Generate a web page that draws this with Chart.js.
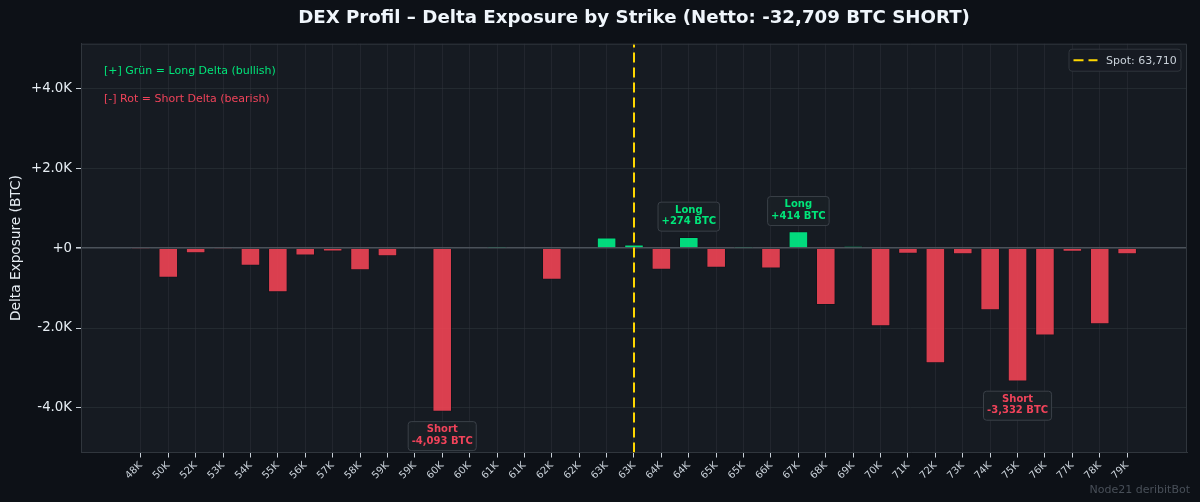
<!DOCTYPE html>
<html>
<head>
<meta charset="utf-8">
<title>DEX Profil – Delta Exposure by Strike</title>
<script src="https://cdn.jsdelivr.net/npm/chart.js@4.4.1/dist/chart.umd.min.js"></script>
<style>
  html, body { margin: 0; padding: 0; background: #0d1117; }
  #wrap { width: 1200px; height: 502px; position: relative; }
</style>
</head>
<body>
<div id="wrap"><canvas id="dex"></canvas></div>
<script>
// strike labels as printed under the axis (half strikes round down to K)
const strikeLabels = [
  '48K', '50K', '52K', '53K', '54K', '55K', '56K', '57K', '58K', '59K',
  '59K', '60K', '60K', '61K', '61K', '62K', '62K', '63K', '63K', '64K',
  '64K', '65K', '65K', '66K', '67K', '68K', '69K', '70K', '71K', '72K',
  '73K', '74K', '75K', '76K', '77K', '78K', '79K'
];

// delta exposure per strike in BTC
const deltaBtc = [
  -10, -737, -124, -10, -438, -1102, -182, -82, -547, -199,
  0, -4093, 0, 8, 0, -786, 0, 262, 85, -537,
  274, -488, 8, -505, 414, -1418, 45, -1950, -134, -2878,
  -150, -1552, -3332, -2182, -84, -1900, -150
];

const yTickValues = [-4000, -2000, 0, 2000, 4000];

const spotPrice = 63710;
const spotIndex = 18;     // strike slot the spot line sits on
const netDelta = -32709;

const GREEN = '#00e67a';
const RED = '#f0435a';
const BAR_GREEN = 'rgba(0, 240, 135, 0.9)';
const BAR_RED = 'rgba(240, 68, 84, 0.9)';
const FONT = "'DejaVu Sans', 'Liberation Sans', sans-serif";

Chart.defaults.font.family = FONT;

// axis limits the way matplotlib would pick them for 0.7 wide bars
const barWidth = 0.7;
const span = (deltaBtc.length - 1) + barWidth;
const xMin = -barWidth / 2 - span * 0.05;
const xMax = deltaBtc.length - 1 + barWidth / 2 + span * 0.05;
const yLim = Math.max(...deltaBtc.map(Math.abs)) * 1.25;

const titleText = 'DEX Profil – Delta Exposure by Strike (Netto: ' +
  netDelta.toLocaleString('en-US') + ' BTC SHORT)';

function fmtK(v) {
  if (v === 0) return '+0';
  return (v > 0 ? '+' : '-') + (Math.abs(v) / 1000).toFixed(1) + 'K';
}

function fmtBtc(v) {
  return (v > 0 ? '+' : '-') + Math.abs(v).toLocaleString('en-US') + ' BTC';
}

// two biggest longs and two biggest shorts get a label box
function pickAnnotations() {
  const idx = deltaBtc.map((v, i) => i);
  const longs = idx.filter(i => deltaBtc[i] > 0).sort((a, b) => deltaBtc[b] - deltaBtc[a]).slice(0, 2);
  const shorts = idx.filter(i => deltaBtc[i] < 0).sort((a, b) => deltaBtc[a] - deltaBtc[b]).slice(0, 2);
  return longs.map(i => ({ i, kind: 'Long' })).concat(shorts.map(i => ({ i, kind: 'Short' })));
}

function roundRect(ctx, x, y, w, h, r) {
  ctx.beginPath();
  ctx.moveTo(x + r, y);
  ctx.lineTo(x + w - r, y);
  ctx.arcTo(x + w, y, x + w, y + r, r);
  ctx.lineTo(x + w, y + h - r);
  ctx.arcTo(x + w, y + h, x + w - r, y + h, r);
  ctx.lineTo(x + r, y + h);
  ctx.arcTo(x, y + h, x, y + h - r, r);
  ctx.lineTo(x, y + r);
  ctx.arcTo(x, y, x + r, y, r);
  ctx.closePath();
}

const plotBackground = {
  id: 'plotBackground',
  beforeDraw(chart) {
    const { ctx, chartArea: a } = chart;
    ctx.save();
    ctx.fillStyle = '#161b22';
    ctx.fillRect(a.left, a.top, a.right - a.left, a.bottom - a.top);
    ctx.restore();
  }
};

const overlay = {
  id: 'overlay',
  afterDatasetsDraw(chart) {
    const { ctx, chartArea: a, scales } = chart;
    ctx.save();

    // title, centred over the plot area
    ctx.font = 'bold 18.2px ' + FONT;
    ctx.textAlign = 'center';
    ctx.textBaseline = 'middle';
    ctx.fillStyle = '#f0f6fc';
    ctx.fillText(titleText, (a.left + a.right) / 2, 18);

    // top and right spines
    ctx.strokeStyle = '#30363d';
    ctx.lineWidth = 1;
    ctx.beginPath();
    ctx.moveTo(a.left, a.top + 0.5);
    ctx.lineTo(a.right - 0.5, a.top + 0.5);
    ctx.lineTo(a.right - 0.5, a.bottom);
    ctx.stroke();

    // value boxes
    ctx.font = 'bold 10px ' + FONT;
    pickAnnotations().forEach(({ i, kind }) => {
      const v = deltaBtc[i];
      const px = scales.x.getPixelForValue(i);
      const py = scales.y.getPixelForValue(v);
      const line2 = fmtBtc(v);
      const w = Math.max(ctx.measureText(kind).width, ctx.measureText(line2).width) + 7;
      const h = 29;
      const top = kind === 'Long' ? py - 6 - h : py + 10;
      roundRect(ctx, px - w / 2, top, w, h, 3);
      ctx.fillStyle = 'rgba(26, 31, 38, 0.92)';
      ctx.fill();
      ctx.strokeStyle = '#3a4048';
      ctx.lineWidth = 1;
      ctx.stroke();
      ctx.fillStyle = kind === 'Long' ? GREEN : RED;
      ctx.fillText(kind, px, top + 8);
      ctx.fillText(line2, px, top + 19.5);
    });

    // legend hints, top left
    ctx.font = '11px ' + FONT;
    ctx.textAlign = 'left';
    ctx.fillStyle = GREEN;
    ctx.fillText('[+] Grün = Long Delta (bullish)', a.left + 23, a.top + 27);
    ctx.fillStyle = RED;
    ctx.fillText('[-] Rot = Short Delta (bearish)', a.left + 23, a.top + 55);

    // spot legend, top right
    const bx = a.right - 118, by = a.top + 5.5, bw = 112, bh = 22;
    roundRect(ctx, bx, by, bw, bh, 3);
    ctx.fillStyle = 'rgba(22, 27, 34, 0.9)';
    ctx.fill();
    ctx.strokeStyle = '#30363d';
    ctx.stroke();
    ctx.strokeStyle = '#ffd700';
    ctx.lineWidth = 2;
    ctx.setLineDash([10, 5]);
    ctx.beginPath();
    ctx.moveTo(bx + 4.5, by + bh / 2);
    ctx.lineTo(bx + 28.5, by + bh / 2);
    ctx.stroke();
    ctx.setLineDash([]);
    ctx.fillStyle = '#c9d1d9';
    ctx.fillText('Spot: ' + spotPrice.toLocaleString('en-US'), bx + 37, by + bh / 2 + 0.5);

    // watermark
    ctx.font = '11px ' + FONT;
    ctx.textAlign = 'right';
    ctx.fillStyle = '#484f58';
    ctx.fillText('Node21 deribitBot', 1190, 490);

    ctx.restore();
  }
};

new Chart(document.getElementById('dex'), {
  type: 'bar',
  data: {
    datasets: [
      {
        type: 'line',
        label: 'Spot: ' + spotPrice.toLocaleString('en-US'),
        data: [{ x: spotIndex, y: -yLim }, { x: spotIndex, y: yLim }],
        borderColor: '#ffd700',
        borderWidth: 2,
        borderDash: [10, 5],
        pointRadius: 0,
        order: 0
      },
      {
        label: 'Delta Exposure',
        data: deltaBtc.map((v, i) => ({ x: i, y: v })),
        backgroundColor: deltaBtc.map(v => (v >= 0 ? BAR_GREEN : BAR_RED)),
        borderColor: 'rgba(13, 17, 23, 0.85)',
        borderWidth: 0.8,
        barPercentage: barWidth,
        categoryPercentage: 1,
        order: 1
      }
    ]
  },
  options: {
    responsive: true,
    maintainAspectRatio: false,
    animation: false,
    layout: { padding: { left: 0, right: 13, top: 43.7, bottom: 0 } },
    plugins: {
      legend: { display: false },
      tooltip: { enabled: false },
      title: { display: false }
    },
    scales: {
      x: {
        type: 'linear',
        offset: false,
        min: xMin,
        max: xMax,
        afterBuildTicks(scale) {
          scale.ticks = strikeLabels.map((_, i) => ({ value: i }));
        },
        afterFit(scale) { scale.height = 49.5; },
        ticks: {
          autoSkip: false,
          minRotation: 45,
          maxRotation: 45,
          color: '#c9d1d9',
          font: { size: 10 },
          padding: 2,
          callback: v => strikeLabels[v]
        },
        grid: {
          offset: false,
          color: 'rgba(48, 54, 61, 0.45)',
          tickColor: '#c9d1d9',
          tickLength: 5
        },
        border: { display: true, color: '#30363d' }
      },
      y: {
        min: -yLim,
        max: yLim,
        afterBuildTicks(scale) {
          scale.ticks = yTickValues.map(v => ({ value: v }));
        },
        afterFit(scale) { scale.width = 81; },
        ticks: {
          color: '#e6edf3',
          font: { size: 13.3 },
          padding: 4,
          callback: v => fmtK(v)
        },
        grid: {
          color: ctx => (ctx.tick && ctx.tick.value === 0 ? '#4b525a' : 'rgba(48, 54, 61, 0.55)'),
          lineWidth: ctx => (ctx.tick && ctx.tick.value === 0 ? 1.6 : 1),
          tickColor: '#c9d1d9',
          tickLength: 5
        },
        border: { display: true, color: '#30363d' },
        title: {
          display: true,
          text: 'Delta Exposure (BTC)',
          color: '#e6edf3',
          font: { size: 13.7 },
          padding: { top: 8, bottom: 0 }
        }
      }
    }
  },
  plugins: [plotBackground, overlay]
});
</script>
</body>
</html>
